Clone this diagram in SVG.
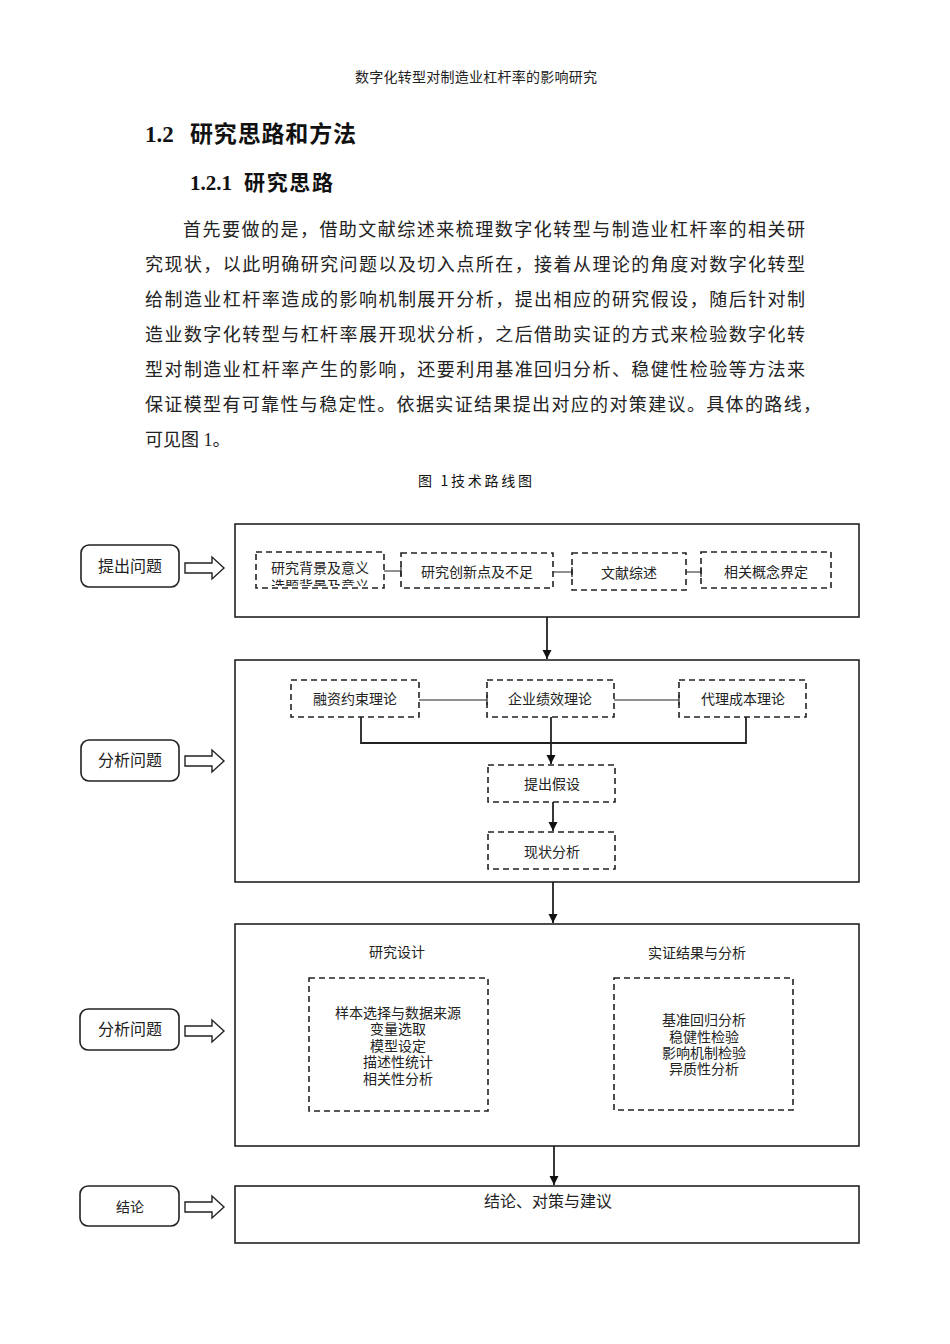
<svg xmlns="http://www.w3.org/2000/svg" width="950" height="1344" viewBox="0 0 950 1344">
<defs>
<style>
.t{font-family:"Liberation Serif","Noto Sans CJK SC",serif;fill:#222}
.h{font-family:"Liberation Serif","Noto Sans CJK SC",serif;font-weight:bold;fill:#111}
.d{font-family:"Liberation Serif","Noto Sans CJK SC",serif;fill:#222;text-anchor:middle}
.main{fill:#fff;stroke:#222;stroke-width:1.6}
.dash{fill:#fff;stroke:#222;stroke-width:1.6;stroke-dasharray:6 4}
.side{fill:#fff;stroke:#222;stroke-width:1.6}
.hol{fill:#fff;stroke:#222;stroke-width:1.4;stroke-linejoin:miter}
.ln{fill:none;stroke:#222;stroke-width:1.2}
.lb{fill:none;stroke:#222;stroke-width:1.8}
</style>
<marker id="ah" viewBox="0 0 10 10" refX="10" refY="5" markerWidth="9" markerHeight="10" markerUnits="userSpaceOnUse" orient="auto">
<path d="M0,0 L10,5 L0,10 z" fill="#111"/>
</marker>
<clipPath id="c1"><rect x="258" y="554" width="124" height="32"/></clipPath>
</defs>
<rect width="950" height="1344" fill="#fff"/>

<g id="page-text">
<text class="t" x="476" y="82" font-size="14" text-anchor="middle" textLength="242" lengthAdjust="spacing">数字化转型对制造业杠杆率的影响研究</text>
<text class="h" x="145" y="142" font-size="23">1.2</text>
<text class="h" x="190" y="142" font-size="23" textLength="166" lengthAdjust="spacing">研究思路和方法</text>
<text class="h" x="190" y="190" font-size="21">1.2.1</text>
<text class="h" x="244" y="190" font-size="21" textLength="89" lengthAdjust="spacing">研究思路</text>
<text class="t" x="183" y="236" font-size="18" textLength="622" lengthAdjust="spacing">首先要做的是，借助文献综述来梳理数字化转型与制造业杠杆率的相关研</text>
<text class="t" x="145" y="271" font-size="18" textLength="660" lengthAdjust="spacing">究现状，以此明确研究问题以及切入点所在，接着从理论的角度对数字化转型</text>
<text class="t" x="145" y="306" font-size="18" textLength="660" lengthAdjust="spacing">给制造业杠杆率造成的影响机制展开分析，提出相应的研究假设，随后针对制</text>
<text class="t" x="145" y="341" font-size="18" textLength="660" lengthAdjust="spacing">造业数字化转型与杠杆率展开现状分析，之后借助实证的方式来检验数字化转</text>
<text class="t" x="145" y="376" font-size="18" textLength="660" lengthAdjust="spacing">型对制造业杠杆率产生的影响，还要利用基准回归分析、稳健性检验等方法来</text>
<text class="t" x="145" y="411" font-size="18" textLength="676" lengthAdjust="spacing">保证模型有可靠性与稳定性。依据实证结果提出对应的对策建议。具体的路线，</text>
<text class="t" x="145" y="446" font-size="18">可见图 1。</text>
<text x="418" y="486" font-size="14" font-family="'Noto Sans CJK SC',sans-serif" fill="#111" textLength="114" lengthAdjust="spacing">图 1技术路线图</text>
</g>

<g id="side-1"><rect class="side" x="81" y="545" width="98" height="42" rx="8"/><text class="d" x="130" y="572" font-size="16">提出问题</text></g>
<g id="side-2"><rect class="side" x="81" y="740" width="98" height="41" rx="8"/><text class="d" x="130" y="766" font-size="16">分析问题</text></g>
<g id="side-3"><rect class="side" x="80" y="1009" width="99" height="41" rx="8"/><text class="d" x="130" y="1035" font-size="16">分析问题</text></g>
<g id="side-4"><rect class="side" x="80" y="1186" width="99" height="40" rx="8"/><text class="d" x="130" y="1212" font-size="14">结论</text></g>

<g id="stage-1">
<rect class="main" x="235" y="524" width="624" height="93"/>
<g id="n-bg"><rect class="dash" x="256" y="552" width="128" height="36"/><text class="d" x="320" y="573" font-size="14">研究背景及意义</text><text class="d" x="320" y="591" font-size="14" clip-path="url(#c1)">选题背景及意义</text></g>
<g id="n-cx"><rect class="dash" x="401" y="553" width="152" height="35"/><text class="d" x="477" y="577" font-size="14">研究创新点及不足</text></g>
<g id="n-wx"><rect class="dash" x="572" y="553" width="114" height="37"/><text class="d" x="629" y="578" font-size="14">文献综述</text></g>
<g id="n-gn"><rect class="dash" x="701" y="552" width="130" height="36"/><text class="d" x="766" y="577" font-size="14">相关概念界定</text></g>
</g>

<g id="stage-2">
<rect class="main" x="235" y="660" width="624" height="222"/>
<g id="n-rz"><rect class="dash" x="291" y="680" width="128" height="37"/><text class="d" x="355" y="704" font-size="14">融资约束理论</text></g>
<g id="n-jx"><rect class="dash" x="487" y="680" width="127" height="37"/><text class="d" x="550" y="704" font-size="14">企业绩效理论</text></g>
<g id="n-dl"><rect class="dash" x="679" y="680" width="127" height="37"/><text class="d" x="743" y="704" font-size="14">代理成本理论</text></g>
<g id="n-js"><rect class="dash" x="488" y="765" width="127" height="37"/><text class="d" x="552" y="789" font-size="14">提出假设</text></g>
<g id="n-xz"><rect class="dash" x="488" y="832" width="127" height="37"/><text class="d" x="552" y="857" font-size="14">现状分析</text></g>
</g>

<g id="stage-3">
<rect class="main" x="235" y="924" width="624" height="222"/>
<text class="d" x="397" y="957" font-size="14">研究设计</text>
<text class="d" x="697" y="958" font-size="14">实证结果与分析</text>
<g id="n-sj"><rect class="dash" x="309" y="978" width="179" height="133"/>
<text class="d" x="398" y="1018" font-size="14">样本选择与数据来源</text>
<text class="d" x="398" y="1034" font-size="14">变量选取</text>
<text class="d" x="398" y="1051" font-size="14">模型设定</text>
<text class="d" x="398" y="1067" font-size="14">描述性统计</text>
<text class="d" x="398" y="1084" font-size="14">相关性分析</text></g>
<g id="n-sz"><rect class="dash" x="614" y="978" width="179" height="132"/>
<text class="d" x="704" y="1025" font-size="14">基准回归分析</text>
<text class="d" x="704" y="1042" font-size="14">稳健性检验</text>
<text class="d" x="704" y="1058" font-size="14">影响机制检验</text>
<text class="d" x="704" y="1074" font-size="14">异质性分析</text></g>
</g>

<g id="stage-4">
<rect class="main" x="235" y="1186" width="624" height="57"/>
<text class="d" x="548" y="1207" font-size="16">结论、对策与建议</text>
</g>

<g id="connectors">
<line class="lb" x1="547" y1="617" x2="547" y2="659" marker-end="url(#ah)"/>
<line class="lb" x1="553" y1="882" x2="553" y2="923" marker-end="url(#ah)"/>
<line class="lb" x1="554" y1="1146" x2="554" y2="1185" marker-end="url(#ah)"/>
<path class="ln" d="M384,571 H401 M401,566 V576"/>
<path class="ln" d="M553,572 H572 M572,567 V577"/>
<path class="ln" d="M686,572 H701 M701,567 V577"/>
<path class="ln" d="M419,700 H487 M487,695 V705"/>
<path class="ln" d="M614,700 H679 M679,695 V705"/>
<path class="lb" d="M361,717 V743 H746 V717"/>
<line class="lb" x1="551" y1="717" x2="551" y2="764" marker-end="url(#ah)"/>
<line class="lb" x1="553" y1="802" x2="553" y2="831" marker-end="url(#ah)"/>
<polygon class="hol" points="185,563 212,563 212,557 224,568 212,579 212,573 185,573"/>
<polygon class="hol" points="185,756 212,756 212,750 224,761 212,772 212,766 185,766"/>
<polygon class="hol" points="185,1026 212,1026 212,1020 224,1031 212,1042 212,1036 185,1036"/>
<polygon class="hol" points="185,1202 212,1202 212,1196 224,1207 212,1218 212,1212 185,1212"/>
</g>
</svg>
